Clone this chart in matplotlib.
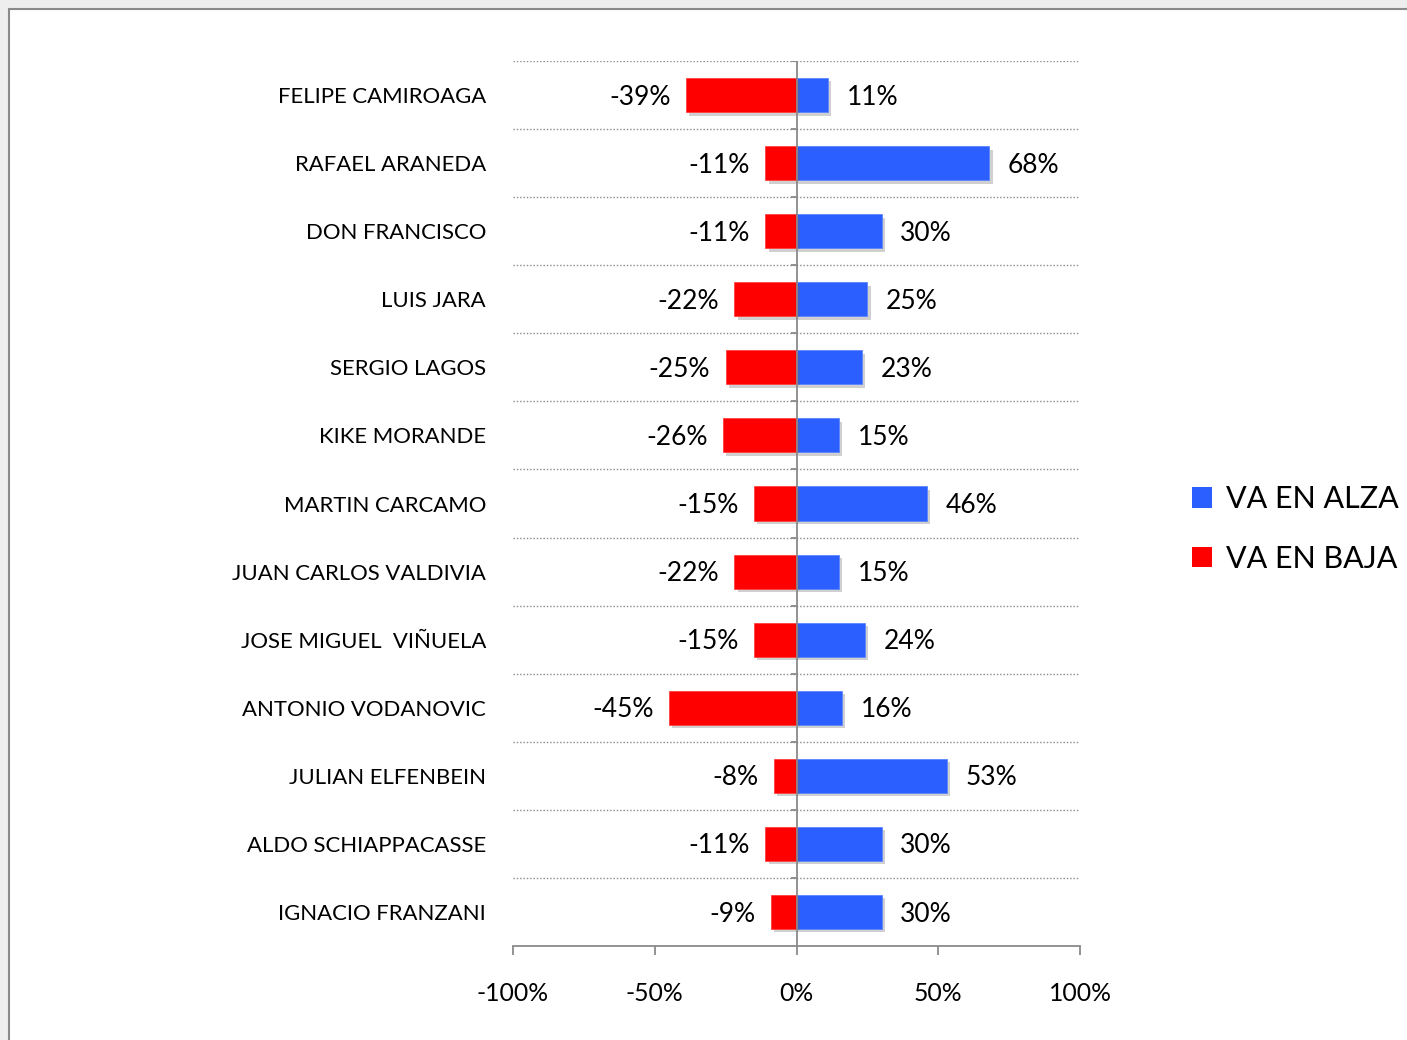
import matplotlib.pyplot as plt
import matplotlib.patheffects as pe
from matplotlib.patches import Rectangle, Patch

# data, top to bottom
names = [
    "FELIPE CAMIROAGA", "RAFAEL ARANEDA", "DON FRANCISCO", "LUIS JARA",
    "SERGIO LAGOS", "KIKE MORANDE", "MARTIN CARCAMO", "JUAN CARLOS VALDIVIA",
    "JOSE MIGUEL  VIÑUELA", "ANTONIO VODANOVIC", "JULIAN ELFENBEIN",
    "ALDO SCHIAPPACASSE", "IGNACIO FRANZANI",
]
alza = [11, 68, 30, 25, 23, 15, 46, 15, 24, 16, 53, 30, 30]
baja = [-39, -11, -11, -22, -25, -26, -15, -22, -15, -45, -8, -11, -9]
xticks = [-100, -50, 0, 50, 100]

BLUE = '#2b5fff'
RED = '#ff0000'
GRAY = '#8a8a8a'

plt.rcParams['font.family'] = ['Lato', 'DejaVu Sans']

fig = plt.figure(figsize=(14.07, 10.4), dpi=100)
fig.patch.set_facecolor('#eeeeee')
# white panel with grey frame, behind the axes
fig.patches.append(Rectangle((9 / 1407, -0.1), 1.2, 1.0913, transform=fig.transFigure,
                             facecolor='white', edgecolor=GRAY, lw=1.5, zorder=-5))

ax = fig.add_axes([513 / 1407, 1 - 946 / 1040, 567 / 1407, 885 / 1040])
ax.set_facecolor('none')

y = list(range(len(names)))
shadow = [pe.SimplePatchShadow(offset=(2.5, -2.5), shadow_rgbFace='#666666', alpha=0.3), pe.Normal()]
ax.barh(y, alza, height=0.5, color=BLUE, edgecolor='#5b85ff', lw=0.6, zorder=3, path_effects=shadow)
ax.barh(y, baja, height=0.5, color=RED, edgecolor='#ff4040', lw=0.6, zorder=3, path_effects=shadow)

for i in y:
    ax.annotate(f"{alza[i]}%", (alza[i], i), xytext=(13.5, -1.5), textcoords='offset points',
                ha='left', va='center', fontsize=19)
    ax.annotate(f"{baja[i]}%", (baja[i], i), xytext=(-11, -1.5), textcoords='offset points',
                ha='right', va='center', fontsize=19)

# dotted separators between categories
for b in range(len(names)):
    ax.axhline(b - 0.5, color=GRAY, lw=1.0, ls=(0, (1, 1.4)), zorder=1)
ax.axvline(0, color=GRAY, lw=1.3, zorder=4)
ax.plot([0] * len(names), [b - 0.5 for b in range(len(names))], ls='none',
        marker=0, color=GRAY, markersize=4, mew=1.3, zorder=4)

ax.set_xlim(-100, 100)
ax.set_ylim(len(names) - 0.5, -0.5)
ax.set_yticks(y)
ax.set_yticklabels(names, fontsize=15.9)
for lbl in ax.get_yticklabels():
    lbl.set_va('center_baseline')
ax.tick_params(axis='y', length=0, pad=19.5)
ax.set_xticks(xticks)
ax.set_xticklabels([f"{t}%" for t in xticks], fontsize=17.8)
ax.tick_params(axis='x', direction='out', length=6.5, width=1.3, color=GRAY, pad=19.5)

for s in ['top', 'right', 'left']:
    ax.spines[s].set_visible(False)
ax.spines['bottom'].set_color(GRAY)
ax.spines['bottom'].set_linewidth(1.3)

handles = [Patch(facecolor=BLUE, edgecolor='none', label='VA EN ALZA'),
           Patch(facecolor=RED, edgecolor='none', label='VA EN BAJA')]
fig.legend(handles=handles, loc='center left', bbox_to_anchor=(1192 / 1407, 1 - 529 / 1040),
           frameon=False, fontsize=22, handlelength=0.65, handleheight=0.65,
           handletextpad=0.45, labelspacing=1.03, borderpad=0, borderaxespad=0)

fig.savefig('out.png', dpi=100, facecolor=fig.get_facecolor())
